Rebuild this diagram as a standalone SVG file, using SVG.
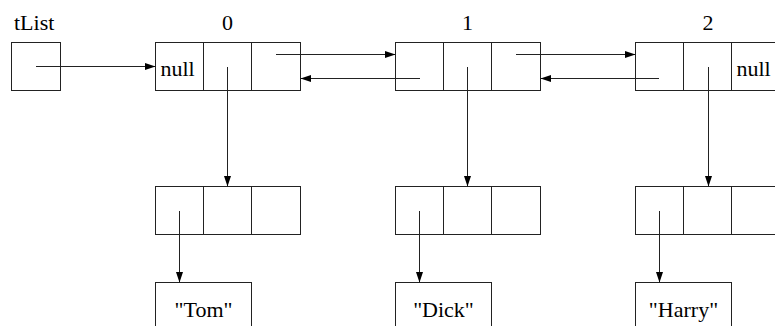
<svg xmlns="http://www.w3.org/2000/svg" width="775" height="326" viewBox="0 0 775 326">
<style>
.box{fill:#fff;stroke:#222;stroke-width:1}
.div{stroke:#222;stroke-width:1}
.con{stroke:#222;stroke-width:1;fill:none;marker-end:url(#ah)}
.c{text-anchor:middle}
.t{font-family:'Liberation Serif','Times New Roman',Tinos,'Nimbus Roman','DejaVu Serif','Noto Serif',serif;font-size:22px;fill:#000}
</style>
<defs>
<marker id="ah" markerUnits="userSpaceOnUse" markerWidth="11" markerHeight="8" refX="10" refY="4" orient="auto">
<path d="M0,0.5 L10.5,4 L0,7.5 z" fill="#000"/>
</marker>
</defs>
<rect width="775" height="326" fill="#fff"/>
<g id="tList">
<text class="t" x="14" y="30">tList</text>
<rect class="box" x="11.5" y="42.5" width="49" height="48"/>
</g>
<g id="node0">
<text class="t c" x="227.5" y="30">0</text>
<rect class="box" x="155.5" y="42.5" width="145" height="48"/>
<line class="div" x1="203.5" y1="42.5" x2="203.5" y2="90.5"/>
<line class="div" x1="251.5" y1="42.5" x2="251.5" y2="90.5"/>
<text class="t" x="160.5" y="76">null</text>
</g>
<g id="node1">
<text class="t c" x="467.5" y="30">1</text>
<rect class="box" x="395.5" y="42.5" width="145" height="48"/>
<line class="div" x1="443.5" y1="42.5" x2="443.5" y2="90.5"/>
<line class="div" x1="491.5" y1="42.5" x2="491.5" y2="90.5"/>
</g>
<g id="node2">
<text class="t c" x="708" y="30">2</text>
<rect class="box" x="635.5" y="42.5" width="145" height="48"/>
<line class="div" x1="683.5" y1="42.5" x2="683.5" y2="90.5"/>
<line class="div" x1="731.5" y1="42.5" x2="731.5" y2="90.5"/>
<text class="t" x="736.5" y="76">null</text>
</g>
<g id="data0">
<rect class="box" x="155.5" y="186.5" width="145" height="48"/>
<line class="div" x1="203.5" y1="186.5" x2="203.5" y2="234.5"/>
<line class="div" x1="251.5" y1="186.5" x2="251.5" y2="234.5"/>
</g>
<g id="data1">
<rect class="box" x="395.5" y="186.5" width="145" height="48"/>
<line class="div" x1="443.5" y1="186.5" x2="443.5" y2="234.5"/>
<line class="div" x1="491.5" y1="186.5" x2="491.5" y2="234.5"/>
</g>
<g id="data2">
<rect class="box" x="635.5" y="186.5" width="145" height="48"/>
<line class="div" x1="683.5" y1="186.5" x2="683.5" y2="234.5"/>
<line class="div" x1="731.5" y1="186.5" x2="731.5" y2="234.5"/>
</g>
<g id="strTom">
<rect class="box" x="155.5" y="282.5" width="96" height="50"/>
<text class="t c" x="203.5" y="317">"Tom"</text>
</g>
<g id="strDick">
<rect class="box" x="395.5" y="282.5" width="96" height="50"/>
<text class="t c" x="443.5" y="317">"Dick"</text>
</g>
<g id="strHarry">
<rect class="box" x="635.5" y="282.5" width="96" height="50"/>
<text class="t c" x="683.5" y="317">"Harry"</text>
</g>
<g id="connectors">
<line class="con" x1="36" y1="66.5" x2="155" y2="66.5"/>
<line class="con" x1="276" y1="54.5" x2="395" y2="54.5"/>
<line class="con" x1="420" y1="78.5" x2="301" y2="78.5"/>
<line class="con" x1="516" y1="54.5" x2="635" y2="54.5"/>
<line class="con" x1="659" y1="78.5" x2="541" y2="78.5"/>
<line class="con" x1="227.5" y1="67" x2="227.5" y2="186"/>
<line class="con" x1="467.5" y1="67" x2="467.5" y2="186"/>
<line class="con" x1="708.5" y1="67" x2="708.5" y2="186"/>
<line class="con" x1="179.5" y1="211" x2="179.5" y2="282"/>
<line class="con" x1="419.5" y1="211" x2="419.5" y2="282"/>
<line class="con" x1="659.5" y1="211" x2="659.5" y2="282"/>
</g>
</svg>
